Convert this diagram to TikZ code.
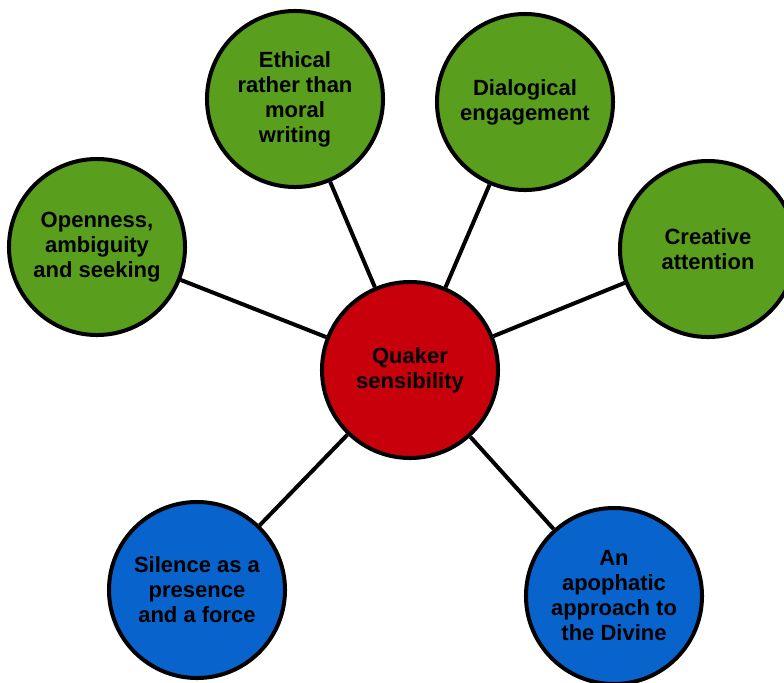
\documentclass[tikz,border=0pt]{standalone}
\usepackage{fontspec}
\setmainfont{Liberation Sans}

\definecolor{leafgreen}{RGB}{90,158,30}
\definecolor{quakerred}{RGB}{200,0,12}
\definecolor{deepblue}{RGB}{8,100,204}

\begin{document}
\begin{tikzpicture}[
                %scale=.2
                scale=.3514,
                line width=4pt,
                bubble/.style={circle,draw=black,align=center,inner sep=0pt,minimum size=176pt,text=black,font=\bfseries\fontsize{22}{25}\selectfont},
                greenbubble/.style={bubble,fill=leafgreen},
                redbubble/.style={bubble,fill=quakerred},
                bluebubble/.style={bubble,fill=deepblue},
                spoke/.style={draw=black,line width=4pt}] %

                    \useasboundingbox (0,0) rectangle (78.4,-68.2);

                    % centre
                    \node[redbubble] (Sensibility) at (41,-37) {Quaker\\sensibility};


                    % 1
                    \node[greenbubble] (QualityA1) at (9.7,-24.7)  {Openness,\\ambiguity\\and seeking}; % 1
                    \node[greenbubble] (QualityB1) at (29.5,-9.9)  {Ethical\\rather than\\moral\\writing}; % 2
                    \node[greenbubble] (QualityC1) at (52.5,-10.2) {Dialogical\\engagement}; % 3
                    \node[greenbubble] (QualityD1) at (70.8,-24.9) {Creative\\attention}; % 4


                    % 2
                    \node[bluebubble] (QualityA2) at (19.7,-59)   {Silence as a\\presence\\and a force}; % 1
                    \node[bluebubble] (QualityB2) at (61.4,-59.6) {An\\apophatic\\approach to\\the Divine}; % 2



                    \draw[spoke] (Sensibility) to (QualityA1);
                    \draw[spoke] (Sensibility) to (QualityB1);
                    \draw[spoke] (Sensibility) to (QualityC1);
                    \draw[spoke] (Sensibility) to (QualityD1);
                    \draw[spoke] (Sensibility) to (QualityA2);
                    \draw[spoke] (Sensibility) to (QualityB2);


                    \end{tikzpicture}
\end{document}
